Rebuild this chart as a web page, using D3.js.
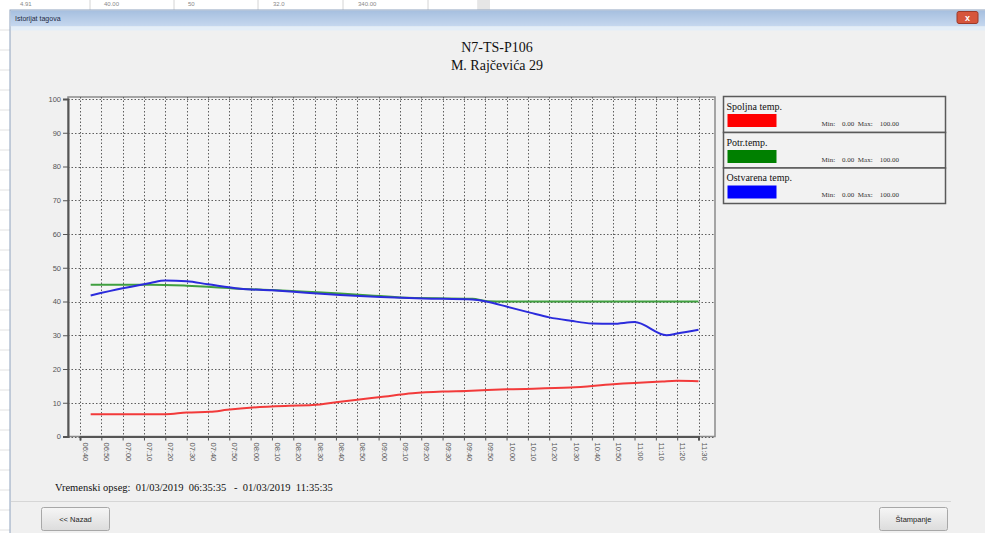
<!DOCTYPE html>
<html>
<head>
<meta charset="utf-8">
<script src="https://cdn.jsdelivr.net/npm/d3@7"></script>
<style>
    body { margin: 0; background: #ffffff; overflow: hidden; }
    text { white-space: pre; }
    .serif { font-family: "Liberation Serif", "Times New Roman", "DejaVu Serif", serif; }
    .sans { font-family: "Liberation Sans", Arial, sans-serif; }
</style>
</head>
<body>
<script>
//chart values
var chartTitle = "N7-TS-P106",
    chartSubtitle = "M. Rajčevića 29",
    rangeText = "Vremenski opseg:  01/03/2019  06:35:35   -  01/03/2019  11:35:35";

//x tick labels (every 10 minutes)
var xTickLabels = ["06:40", "06:50", "07:00", "07:10", "07:20", "07:30", "07:40", "07:50",
    "08:00", "08:10", "08:20", "08:30", "08:40", "08:50", "09:00", "09:10", "09:20", "09:30",
    "09:40", "09:50", "10:00", "10:10", "10:20", "10:30", "10:40", "10:50", "11:00", "11:10",
    "11:20", "11:30"];

//y tick values
var yTicks = [0, 10, 20, 30, 40, 50, 60, 70, 80, 90, 100];

//legend entries
var seriesNames = ["Spoljna temp.", "Potr.temp.", "Ostvarena temp."],
    seriesMin = [0, 0, 0],
    seriesMax = [100, 100, 100];

//outside temperature
var spoljnaTimes = ["06:45", "07:20", "07:30", "07:41", "07:49", "08:01", "08:18", "08:29", "08:42",
    "08:50", "09:01", "09:16", "09:30", "09:41", "10:00", "10:30", "10:50", "11:13", "11:20", "11:30"];
var spoljnaValues = [6.6, 6.6, 7.1, 7.3, 7.9, 8.6, 9.1, 9.3, 10.3,
    10.9, 11.7, 12.8, 13.3, 13.5, 14.0, 14.5, 15.5, 16.3, 16.5, 16.4];

//required temperature
var potrTimes = ["06:45", "07:13", "07:30", "07:40", "07:55", "08:10", "08:26", "08:42", "09:01",
    "09:10", "09:44", "09:51", "10:00", "11:30"];
var potrValues = [45.0, 45.0, 44.7, 44.4, 43.8, 43.4, 42.9, 42.4, 41.6,
    41.2, 40.8, 40.1, 40.0, 40.0];

//achieved temperature
var ostvarenaTimes = ["06:45", "07:00", "07:13", "07:20", "07:30", "07:40", "07:55", "08:10", "08:26",
    "08:42", "09:01", "09:21", "09:44", "09:51", "10:00", "10:11", "10:20", "10:30", "10:40",
    "10:50", "11:00", "11:15", "11:20", "11:30"];
var ostvarenaValues = [41.8, 43.9, 45.5, 46.2, 46.0, 45.1, 43.8, 43.3, 42.6,
    41.9, 41.3, 40.9, 40.6, 39.9, 38.5, 36.7, 35.3, 34.3, 33.5,
    33.4, 33.9, 30.0, 30.5, 31.6];

//line / swatch colours
var lineColors = ["#f23a3a", "#3f9f3f", "#2b2bdc"],
    swatchColors = ["#ff0000", "#008000", "#0000ff"];

window.onload = drawChart;

function drawChart(){

    var width = 985,
        height = 533;

    var parseTime = d3.timeParse("%H:%M");

    var svg = d3.select("body")
        .append("svg")
        .attr("width", width)
        .attr("height", height);

    var defs = svg.append("defs");

    //title bar gradient
    var tg = defs.append("linearGradient")
        .attr("id", "titleGrad")
        .attr("x1", 0).attr("y1", 0).attr("x2", 0).attr("y2", 1);
    tg.append("stop").attr("offset", "0%").attr("stop-color", "#a6bfdf");
    tg.append("stop").attr("offset", "100%").attr("stop-color", "#c6d8ef");

    //button gradient
    var bg = defs.append("linearGradient")
        .attr("id", "btnGrad")
        .attr("x1", 0).attr("y1", 0).attr("x2", 0).attr("y2", 1);
    bg.append("stop").attr("offset", "0%").attr("stop-color", "#f6f6f6");
    bg.append("stop").attr("offset", "100%").attr("stop-color", "#dcdcdc");

    //spreadsheet behind the dialog
    var sheetCols = [90, 174, 258, 343, 428, 478];
    svg.selectAll(".sheetCol")
        .data(sheetCols)
        .enter()
        .append("line")
        .attr("x1", function(d){ return d; })
        .attr("x2", function(d){ return d; })
        .attr("y1", 0).attr("y2", 10)
        .attr("stroke", "#d4d4d4");
    svg.append("rect")
        .attr("x", 478).attr("y", 0).attr("width", 12).attr("height", 10)
        .attr("fill", "#e6e6e6");
    var sheetText = ["4.91", "40.00", "50", "32.0", "340.00"];
    svg.selectAll(".sheetText")
        .data(sheetText)
        .enter()
        .append("text")
        .attr("class", "sans")
        .attr("x", function(d, i){ return sheetCols[i] - 70; })
        .attr("y", 6)
        .attr("font-size", 6)
        .attr("fill", "#888")
        .text(function(d){ return d; });
    d3.range(30, 533, 20).forEach(function(y){
        svg.append("line")
            .attr("x1", 0).attr("x2", 10).attr("y1", y).attr("y2", y)
            .attr("stroke", "#e2e2e2");
    });

    //dialog window
    svg.append("rect")
        .attr("x", 10).attr("y", 10).attr("width", 980).attr("height", 530)
        .attr("fill", "#f0f0f0")
        .attr("stroke", "#8da2bd");
    svg.append("rect")
        .attr("x", 10.5).attr("y", 10.5).attr("width", 980).attr("height", 16)
        .attr("fill", "url(#titleGrad)");
    svg.append("rect")
        .attr("x", 11).attr("y", 26.5).attr("width", 980).attr("height", 4)
        .attr("fill", "#e4eef8");
    svg.append("text")
        .attr("class", "sans")
        .attr("x", 15).attr("y", 21)
        .attr("font-size", 7)
        .attr("fill", "#1e2a44")
        .text("Istorijat tagova");

    //close button
    svg.append("rect")
        .attr("x", 957).attr("y", 11.5).attr("width", 21).attr("height", 12).attr("rx", 2)
        .attr("fill", "#d6553c")
        .attr("stroke", "#9c3a2a");
    svg.append("text")
        .attr("class", "sans")
        .attr("x", 967.5).attr("y", 21)
        .attr("text-anchor", "middle")
        .attr("font-size", 9)
        .attr("font-weight", "bold")
        .attr("fill", "#ffffff")
        .text("x");

    //chart titles
    svg.append("text")
        .attr("class", "serif")
        .attr("x", 497).attr("y", 52)
        .attr("text-anchor", "middle")
        .attr("font-size", 14)
        .attr("fill", "#111")
        .text(chartTitle);
    svg.append("text")
        .attr("class", "serif")
        .attr("x", 497).attr("y", 70)
        .attr("text-anchor", "middle")
        .attr("font-size", 14)
        .attr("fill", "#111")
        .text(chartSubtitle);

    //plot frame
    var left = 68, right = 715, top = 97, bottom = 436.5;

    var x = d3.scaleTime()
        .domain([parseTime(xTickLabels[0]), parseTime(xTickLabels[xTickLabels.length - 1])])
        .range([80, 698.5]);

    var y = d3.scaleLinear()
        .domain([0, 100])
        .range([bottom, 99]);

    svg.append("rect")
        .attr("x", left).attr("y", top)
        .attr("width", right - left).attr("height", bottom - top)
        .attr("fill", "#f4f4f4")
        .attr("stroke", "#8a8a8a")
        .attr("stroke-width", 1.5);

    //vertical grid lines
    svg.selectAll(".vGrid")
        .data(xTickLabels)
        .enter()
        .append("line")
        .attr("class", "vGrid")
        .attr("x1", function(d){ return Math.round(x(parseTime(d))) + 0.5; })
        .attr("x2", function(d){ return Math.round(x(parseTime(d))) + 0.5; })
        .attr("y1", top)
        .attr("y2", bottom)
        .attr("stroke", "#5e5e5e")
        .attr("stroke-dasharray", "1.5,2");

    //horizontal grid lines
    svg.selectAll(".hGrid")
        .data(yTicks)
        .enter()
        .append("line")
        .attr("class", "hGrid")
        .attr("x1", left)
        .attr("x2", right)
        .attr("y1", function(d){ return Math.round(y(d)) + 0.5; })
        .attr("y2", function(d){ return Math.round(y(d)) + 0.5; })
        .attr("stroke", "#5e5e5e")
        .attr("stroke-dasharray", "1.5,2");

    //y axis
    var yAxis = svg.append("g")
        .attr("transform", "translate(" + left + ",0)")
        .call(d3.axisLeft(y).tickValues(yTicks).tickSize(5).tickPadding(2));
    yAxis.attr("font-family", null).attr("font-size", null);
    yAxis.select(".domain").attr("stroke", "#555").attr("stroke-width", 2);
    yAxis.selectAll(".tick line").attr("stroke", "#555");
    yAxis.selectAll(".tick text")
        .attr("class", "sans")
        .attr("font-size", 7.5)
        .attr("fill", "#555");

    //x axis with rotated labels
    var xAxis = svg.append("g")
        .attr("transform", "translate(0," + bottom + ")")
        .call(d3.axisBottom(x)
            .tickValues(xTickLabels.map(parseTime))
            .tickFormat(d3.timeFormat("%H:%M"))
            .tickSize(4));
    xAxis.attr("font-family", null).attr("font-size", null);
    xAxis.select(".domain").attr("stroke", "#555").attr("stroke-width", 2);
    xAxis.selectAll(".tick line").attr("stroke", "#555");
    xAxis.selectAll(".tick text")
        .attr("class", "sans")
        .attr("font-size", 7.5)
        .attr("fill", "#555")
        .attr("text-anchor", "start")
        .attr("transform", "translate(2.5,6) rotate(90)")
        .attr("x", 0)
        .attr("y", 0)
        .attr("dy", 0);

    //series lines
    var series = [
        {times: spoljnaTimes, values: spoljnaValues},
        {times: potrTimes, values: potrValues},
        {times: ostvarenaTimes, values: ostvarenaValues}
    ];

    var line = d3.line()
        .x(function(d){ return x(d[0]); })
        .y(function(d){ return y(d[1]); })
        .curve(d3.curveMonotoneX);

    svg.selectAll(".seriesLine")
        .data(series)
        .enter()
        .append("path")
        .attr("class", "seriesLine")
        .attr("fill", "none")
        .attr("stroke", function(d, i){ return lineColors[i]; })
        .attr("stroke-width", 2)
        .attr("d", function(d){
            return line(d.times.map(function(t, j){ return [parseTime(t), d.values[j]]; }));
        });

    //legend boxes
    var legendTops = [96.5, 132.5, 168];
    var legendBoxHeight = [36, 35.5, 35.5];

    var legend = svg.selectAll(".legendItem")
        .data(seriesNames)
        .enter()
        .append("g")
        .attr("class", "legendItem")
        .attr("transform", function(d, i){ return "translate(723.5," + legendTops[i] + ")"; });

    legend.append("rect")
        .attr("width", 222)
        .attr("height", function(d, i){ return legendBoxHeight[i]; })
        .attr("fill", "#f2f2f2")
        .attr("stroke", "#5a5a5a")
        .attr("stroke-width", 1.5);

    legend.append("text")
        .attr("class", "serif")
        .attr("x", 3).attr("y", 13)
        .attr("font-size", 10)
        .attr("fill", "#111")
        .text(function(d){ return d; });

    legend.append("rect")
        .attr("x", 4).attr("y", 17.5)
        .attr("width", 49).attr("height", 13)
        .attr("fill", function(d, i){ return swatchColors[i]; });

    legend.append("text")
        .attr("class", "serif")
        .attr("x", 98).attr("y", 29)
        .attr("font-size", 7)
        .attr("fill", "#333")
        .text(function(d, i){
            return "Min:    " + d3.format(".2f")(seriesMin[i]) + "  Max:    " + d3.format(".2f")(seriesMax[i]);
        });

    //time range text
    svg.append("text")
        .attr("class", "serif")
        .attr("x", 55).attr("y", 491)
        .attr("font-size", 10.5)
        .attr("fill", "#111")
        .text(rangeText);

    //panel edge
    svg.append("line")
        .attr("x1", 11).attr("x2", 951).attr("y1", 501.5).attr("y2", 501.5)
        .attr("stroke", "#d6d6d6");

    //buttons
    var buttons = [
        {label: "<< Nazad", x: 41.5, w: 68},
        {label: "Štampanje", x: 879.5, w: 68}
    ];
    var btn = svg.selectAll(".btn")
        .data(buttons)
        .enter()
        .append("g")
        .attr("class", "btn")
        .attr("transform", function(d){ return "translate(" + d.x + ",507.5)"; });
    btn.append("rect")
        .attr("width", function(d){ return d.w; })
        .attr("height", 23)
        .attr("rx", 2)
        .attr("fill", "url(#btnGrad)")
        .attr("stroke", "#a8a8a8");
    btn.append("text")
        .attr("class", "sans")
        .attr("x", function(d){ return d.w / 2; })
        .attr("y", 14.5)
        .attr("text-anchor", "middle")
        .attr("font-size", 7.5)
        .attr("fill", "#222")
        .text(function(d){ return d.label; });
};
</script>
</body>
</html>
